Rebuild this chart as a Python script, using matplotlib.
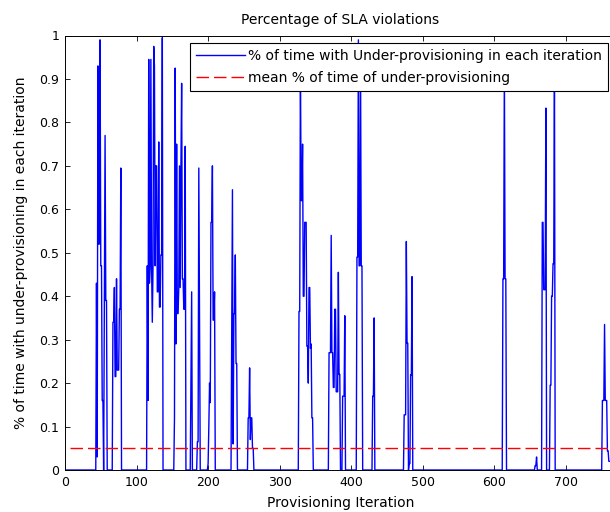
import numpy as np
import matplotlib
matplotlib.use("Agg")
import matplotlib.pyplot as plt

# number of provisioning iterations
n_iter = 770
mean_violation = 0.05

# bursts of SLA violation: first iteration of each burst and its values
burst_start = [44, 67, 115, 153, 176, 185, 200, 233, 256, 327, 369, 388,
               408, 430, 474, 612, 657, 667, 678, 751]
burst_vals = [
    [0.43, 0.03, 0.93, 0.52, 0.52, 0.99, 0.47, 0.47, 0.16, 0.16, 0.0, 0.38, 0.77, 0.39, 0.39],
    [0.34, 0.34, 0.42, 0.215, 0.215, 0.44, 0.23, 0.23, 0.23, 0.37, 0.37, 0.695],
    [0.47, 0.16, 0.945, 0.43, 0.47, 0.945, 0.47, 0.34, 0.47, 0.975, 0.93, 0.47, 0.70, 0.70,
     0.41, 0.41, 0.755, 0.375, 0.375, 0.495, 0.495, 0.995],
    [0.12, 0.925, 0.29, 0.75, 0.36, 0.36, 0.42, 0.70, 0.42, 0.70, 0.89, 0.44, 0.44, 0.37, 0.37, 0.745],
    [0.2, 0.41],
    [0.065, 0.065, 0.695, 0.345],
    [0.015, 0.10, 0.20, 0.155, 0.57, 0.57, 0.70, 0.345, 0.345, 0.41],
    [0.30, 0.645, 0.06, 0.36, 0.36, 0.495, 0.245, 0.245],
    [0.12, 0.12, 0.235, 0.07, 0.12, 0.12, 0.05, 0.05],
    [0.365, 0.365, 0.93, 0.62, 0.62, 0.75, 0.40, 0.40, 0.57, 0.57, 0.57, 0.285, 0.285, 0.20,
     0.42, 0.42, 0.28, 0.29, 0.12, 0.12],
    [0.27, 0.27, 0.27, 0.54, 0.27, 0.27, 0.19, 0.19, 0.37, 0.37, 0.18, 0.18, 0.18, 0.455, 0.22, 0.22],
    [0.17, 0.17, 0.17, 0.355],
    [0.49, 0.49, 0.99, 0.47, 0.47, 0.93, 0.47, 0.47],
    [0.17, 0.17, 0.35],
    [0.127, 0.127, 0.127, 0.526, 0.292, 0.292, 0.0, 0.015, 0.015, 0.219, 0.219, 0.445],
    [0.44, 0.44, 0.93, 0.44, 0.44],
    [0.01, 0.01, 0.03],
    [0.57, 0.57, 0.415, 0.415, 0.415, 0.833],
    [0.195, 0.195, 0.40, 0.40, 0.475, 0.475, 0.93],
    [0.16, 0.16, 0.16, 0.335, 0.16, 0.16, 0.16, 0.044, 0.044, 0.02, 0.02, 0.02, 0.02],
]

x_ticks = [0, 100, 200, 300, 400, 500, 600, 700]
y_ticks = [0, 0.1, 0.2, 0.3, 0.4, 0.5, 0.6, 0.7, 0.8, 0.9, 1]
y_ticklabels = ["0", "0.1", "0.2", "0.3", "0.4", "0.5", "0.6", "0.7", "0.8", "0.9", "1"]

# full series: zero everywhere except in the bursts
iters = np.arange(1, n_iter + 1)
under_prov = np.zeros(n_iter)
for start, vals in zip(burst_start, burst_vals):
    under_prov[start - 1:start - 1 + len(vals)] = vals

plt.rcParams['font.family'] = ['DejaVu Sans']

fig = plt.figure(figsize=(6.1, 5.12), dpi=100)
# axes run a bit past the right edge, like the cropped original
ax = fig.add_axes([65 / 610, 42 / 512, 551 / 610, 434.5 / 512])

ax.plot(iters, under_prov, color='#0000ff', lw=1.0,
        label='% of time with Under-provisioning in each iteration')
ax.plot([7, iters[-1]], [mean_violation, mean_violation], color='#ff0000', lw=1.0,
        dashes=(9, 3.6), label='mean % of time of under-provisioning')

ax.set_xlim(0, n_iter)
ax.set_ylim(0, 1)
ax.set_xticks(x_ticks)
ax.set_yticks(y_ticks)
ax.set_yticklabels(y_ticklabels)
ax.tick_params(direction='in', top=True, right=True, length=3.6, width=0.6,
               labelsize=9, pad=4)
for sp in ax.spines.values():
    sp.set_linewidth(0.7)

ax.set_title('Percentage of SLA violations', fontsize=10, pad=8)
ax.set_xlabel('Provisioning Iteration', fontsize=10)
ax.set_ylabel('% of time with under-provisioning in each iteration', fontsize=10)
ax.xaxis.set_label_coords(0.5, -0.060)
ax.yaxis.set_label_coords(-0.067, 0.5)

leg = ax.legend(loc='upper right', bbox_to_anchor=(608 / 610, 1 - 43 / 512),
                bbox_transform=fig.transFigure, borderaxespad=0, fontsize=10,
                fancybox=False, framealpha=1, edgecolor='black', handlelength=3.5,
                handletextpad=0.2, labelspacing=0.55, borderpad=0.45)
leg.get_frame().set_linewidth(0.8)

fig.savefig('out.png', dpi=100)
